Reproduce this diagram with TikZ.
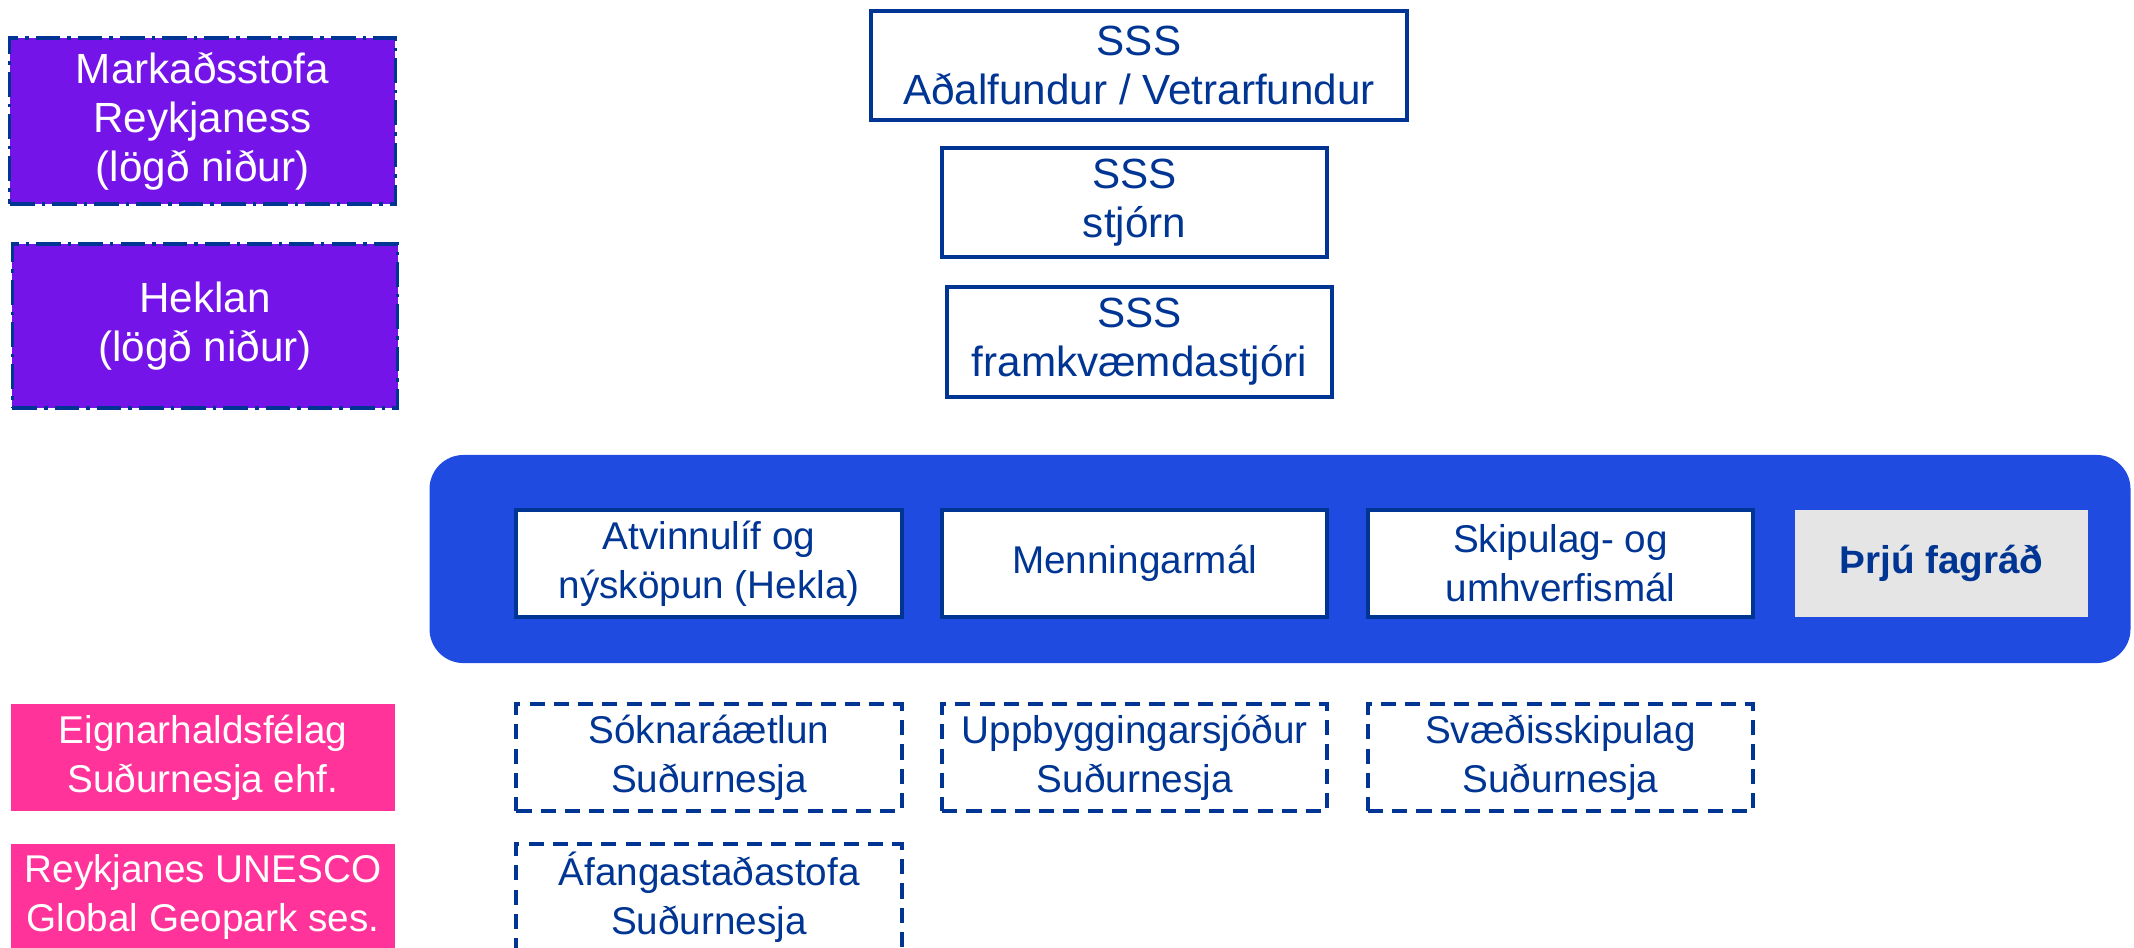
\documentclass[tikz,border=0pt]{standalone}
\usepackage{fontspec}
\setmainfont{Liberation Sans}
\definecolor{navy}{RGB}{0,53,148}
\definecolor{violet}{RGB}{116,20,232}
\definecolor{panelblue}{RGB}{32,75,224}
\definecolor{hotpink}{RGB}{255,51,153}
\definecolor{lightgray}{RGB}{229,229,229}

\begin{document}
\begin{tikzpicture}[
  x=0.01cm, y=-0.01cm,
  unit/.style={rectangle, align=center, inner sep=0pt, outer sep=0pt,
    minimum width=3.85cm, minimum height=1.09cm},
  box/.style={unit, draw=navy, line width=1.1pt, fill=white, text=navy,
    font=\fontsize{12}{14}\selectfont},
  dbox/.style={box, dashed, dash pattern=on 4.3pt off 2.6pt,
    minimum height=1.07cm, font=\fontsize{11}{14}\selectfont},
  closed/.style={unit, fill=violet, draw=navy, line width=0.9pt,
    dash pattern=on 7pt off 2pt on 1pt off 2pt, text=white,
    font=\fontsize{12}{14}\selectfont},
  company/.style={unit, fill=hotpink, text=white, minimum width=3.84cm,
    minimum height=1.07cm, font=\fontsize{11}{14}\selectfont}]
  \useasboundingbox (0,0) rectangle (2134,947);
  % SSS levels
  \node[box, minimum width=5.36cm] (meeting) at (1139,65.5) {SSS\\Aðalfundur / Vetrarfundur};
  \node[box] (board) at (1134.5,202.5) {SSS\\stjórn};
  \node[box, minimum height=1.1cm] (ceo) at (1139.5,342) {SSS\\framkvæmdastjóri};
  % discontinued units
  \node[closed, minimum height=1.66cm] (mark) at (202.5,121) {Markaðsstofa\\Reykjaness\\(lögð niður)};
  \node[closed, minimum height=1.64cm] (heklan) at (205,326) {Heklan\\(lögð niður)};
  % blue panel with the councils
  \node[rectangle, fill=panelblue, rounded corners=0.34cm, minimum width=17cm,
    minimum height=2.08cm] (panel) at (1280,559) {};
  \foreach \t [count=\i from 0] in {{Atvinnulíf og\\nýsköpun (Hekla)},Menningarmál,{Skipulag- og\\umhverfismál}}
    \node[box, minimum height=1.07cm, font=\fontsize{11}{14}\selectfont] (c\i) at (709+425.75*\i,563.5) {\t};
  \node[unit, fill=lightgray, text=navy, minimum width=2.93cm, minimum height=1.07cm,
    font=\fontsize{11}{14}\selectfont\bfseries] (fagrad) at (1941.5,563.5) {Þrjú fagráð};
  % projects
  \foreach \t [count=\i from 0] in {{Sóknaráætlun\\Suðurnesja},{Uppbyggingarsjóður\\Suðurnesja},{Svæðisskipulag\\Suðurnesja}}
    \node[dbox] (p\i) at (709+425.75*\i,757.5) {\t};
  \node[dbox, minimum height=1.06cm] (afanga) at (709,897) {Áfangastaðastofa\\Suðurnesja};
  % companies
  \node[company] (eign) at (203,757.5) {Eignarhaldsfélag\\Suðurnesja ehf.};
  \node[company, minimum height=1.06cm] (geo) at (203,897) {Reykjanes UNESCO\\Global Geopark ses.};
\end{tikzpicture}
\end{document}
